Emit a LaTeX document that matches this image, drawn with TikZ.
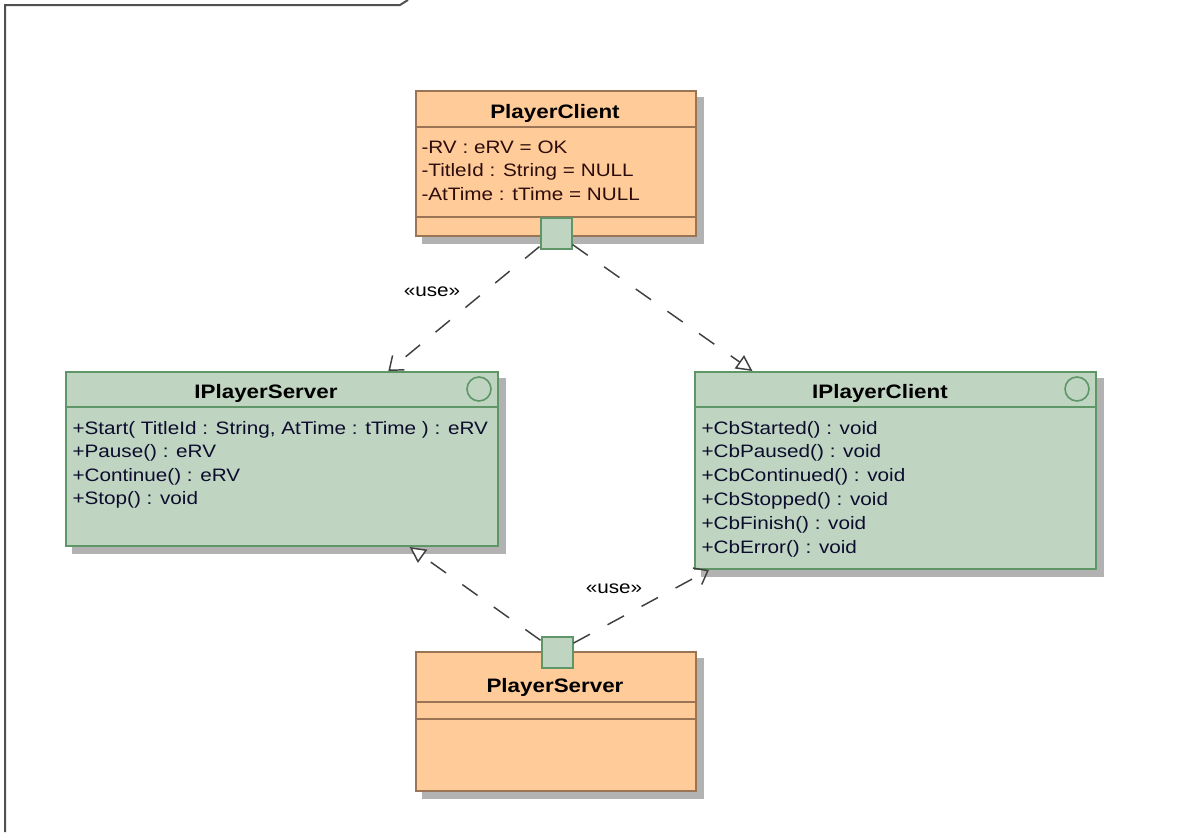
\documentclass[tikz,border=0pt]{standalone}
\usepackage{fontspec}
\newfontfamily\umlfont[FakeStretch=1.15]{Liberation Sans}
\usetikzlibrary{arrows.meta,calc,backgrounds}

\definecolor{clsfill}{RGB}{255,204,153}
\definecolor{clsline}{RGB}{153,117,85}
\definecolor{ifcfill}{RGB}{192,212,194}
\definecolor{ifcline}{RGB}{94,150,104}
\definecolor{linkgray}{RGB}{64,64,64}
\definecolor{framegray}{RGB}{80,80,80}
\definecolor{shadegray}{RGB}{178,178,178}
\definecolor{attrtext}{RGB}{45,12,12}
\definecolor{oprtext}{RGB}{12,12,45}

\tikzset{every picture/.style={line width=0.75pt}}
\tikzset{
  clsbox/.style={draw=clsline, fill=clsfill, line width=1.5pt, anchor=north west, inner sep=0pt},
  ifcbox/.style={draw=ifcline, fill=ifcfill, line width=1.5pt, anchor=north west, inner sep=0pt},
  portbox/.style={draw=ifcline, fill=ifcfill, line width=1.5pt, minimum size=23.25pt, inner sep=0pt},
  ifcicon/.style={draw=ifcline, circle, line width=1.2pt, minimum size=18pt, inner sep=0pt},
  clstitle/.style={font=\umlfont\bfseries\fontsize{14.6}{16}\selectfont, anchor=base, inner sep=0pt},
  member/.style={font=\umlfont\fontsize{13.5}{15}\selectfont, anchor=base west, inner sep=0pt},
  stereo/.style={font=\umlfont\fontsize{13.5}{15}\selectfont, inner sep=0pt},
  uselink/.style={draw=linkgray, line width=1.1pt, dash pattern=on 14pt off 15pt, -{Straight Barb[length=9pt,width=14pt]}},
  reallink/.style={draw=linkgray, line width=1.1pt, dash pattern=on 14pt off 15pt, -{Triangle[open,fill=white,length=12pt,width=12pt]}},
}

\begin{document}
\begin{tikzpicture}[x=0.75pt,y=0.75pt,yscale=-1,xscale=1]
\useasboundingbox (0,0) rectangle (1184,832);

%Frame
\draw [framegray, line width=1.5pt] (5,832) -- (5,5) -- (400,5) -- (408,0) ;

%Class: PlayerClient
\node [clsbox, minimum width=210pt, minimum height=108.75pt] (pc) at (415,90) {};
\node [clstitle] (pctitle) at (555,118) {PlayerClient};
\draw [clsline, line width=1.5pt] (pc.west |- 0,127) -- (pc.east |- 0,127) ;
\draw [clsline, line width=1.5pt] (pc.west |- 0,217) -- (pc.east |- 0,217) ;
\foreach \txt [count=\i from 0] in {{-RV : eRV = OK},{-TitleId : String = NULL},{-AtTime : tTime = NULL}}
  \node [member, text=attrtext] (pcattr\i) at (421,153+23.5*\i) {\txt};

%Interface: IPlayerServer
\node [ifcbox, minimum width=324pt, minimum height=130.5pt] (ipsrv) at (65,371) {};
\node [clstitle] (ipsrvtitle) at (266,398) {IPlayerServer};
\node [ifcicon] (ipsrvicon) at (479,389) {};
\draw [ifcline, line width=1.5pt] (ipsrv.west |- 0,407) -- (ipsrv.east |- 0,407) ;
\foreach \txt [count=\i from 0] in {{+Start( TitleId : String, AtTime : tTime ) : eRV},{+Pause() : eRV},{+Continue() : eRV},{+Stop() : void}}
  \node [member, text=oprtext] (ipsrvop\i) at (72,434+23.6*\i) {\txt};

%Interface: IPlayerClient
\node [ifcbox, minimum width=300.75pt, minimum height=147.75pt] (ipcl) at (694,371) {};
\node [clstitle] (ipcltitle) at (880,398) {IPlayerClient};
\node [ifcicon] (ipclicon) at (1077,389) {};
\draw [ifcline, line width=1.5pt] (ipcl.west |- 0,407) -- (ipcl.east |- 0,407) ;
\foreach \txt [count=\i from 0] in {{+CbStarted() : void},{+CbPaused() : void},{+CbContinued() : void},{+CbStopped() : void},{+CbFinish() : void},{+CbError() : void}}
  \node [member, text=oprtext] (ipclop\i) at (701,434+23.8*\i) {\txt};

%Class: PlayerServer
\node [clsbox, minimum width=210pt, minimum height=104.25pt] (ps) at (415,651) {};
\node [clstitle] (pstitle) at (555,692) {PlayerServer};
\draw [clsline, line width=1.5pt] (ps.west |- 0,702) -- (ps.east |- 0,702) ;
\draw [clsline, line width=1.5pt] (ps.west |- 0,719) -- (ps.east |- 0,719) ;

%Ports
\node [portbox] (pcport) at (556,233) {};
\node [portbox] (psport) at (557,652) {};

%Shadows
\begin{scope}[on background layer]
\foreach \bx in {pc,ipsrv,ipcl,ps}
  \fill [shadegray] ([shift={(7,7)}]\bx.north west) rectangle ([shift={(7,7)}]\bx.south east) ;
\end{scope}

%Dependencies and realizations
\draw [uselink] (pcport) -- ($(ipsrv.north west)!0.745!(ipsrv.north east)$) ;
\node [stereo] (use1) at (432,292) {«use»};
\draw [reallink] (pcport) -- ($(ipcl.north west)!0.145!(ipcl.north east)$) ;
\draw [reallink] (psport) -- ($(ipsrv.south west)!0.794!(ipsrv.south east)$) ;
\draw [uselink] (psport) -- ($(ipcl.south west)!0.037!(ipcl.south east)$) ;
\node [stereo] (use2) at (614,589) {«use»};

\end{tikzpicture}
\end{document}
